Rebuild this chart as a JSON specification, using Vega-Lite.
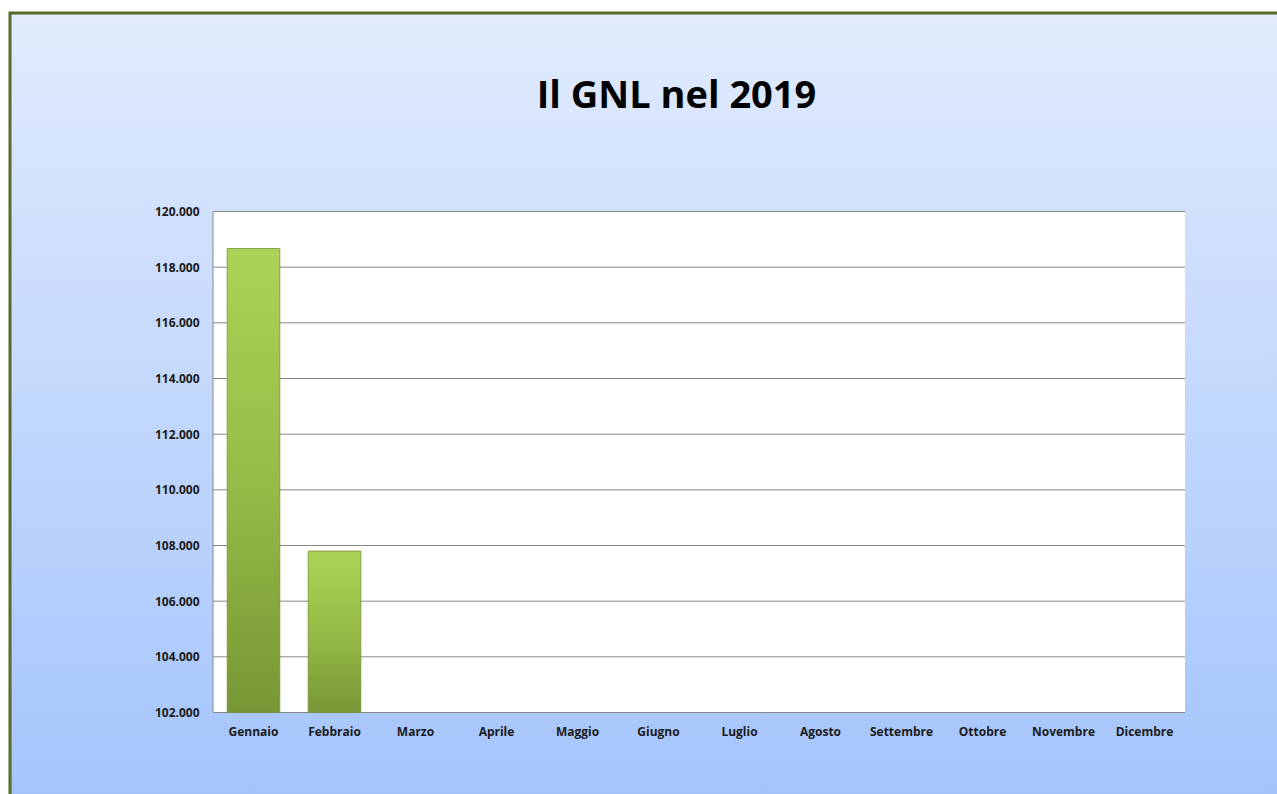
{
  "$schema": "https://vega.github.io/schema/vega-lite/v6.json",
  "width": 1273,
  "height": 787,
  "autosize": {"type": "none"},
  "padding": {"left": 10, "top": 13, "right": -6, "bottom": -6},
  "background": "white",
  "title": {
    "text": "Il GNL nel 2019",
    "font": "Open Sans",
    "fontSize": 38,
    "fontWeight": "bold",
    "color": "#000000",
    "anchor": "middle",
    "frame": "group",
    "baseline": "alphabetic",
    "offset": -133,
    "dx": 30
  },
  "config": {
    "view": {
      "fill": {"gradient": "linear", "x1": 0, "y1": 0, "x2": 0, "y2": 1,
        "stops": [{"offset": 0, "color": "#e1ebfd"}, {"offset": 1, "color": "#a4c4fc"}]},
      "stroke": "#57692b",
      "strokeWidth": 3
    },
    "axis": {"labelFont": "Open Sans", "labelFontWeight": "bold", "labelFontSize": 12, "labelColor": "#1a1a1a"}
  },
  "data": {
    "values": [
      {"mese": "Gennaio", "valore": 118670},
      {"mese": "Febbraio", "valore": 107800},
      {"mese": "Marzo", "valore": null},
      {"mese": "Aprile", "valore": null},
      {"mese": "Maggio", "valore": null},
      {"mese": "Giugno", "valore": null},
      {"mese": "Luglio", "valore": null},
      {"mese": "Agosto", "valore": null},
      {"mese": "Settembre", "valore": null},
      {"mese": "Ottobre", "valore": null},
      {"mese": "Novembre", "valore": null},
      {"mese": "Dicembre", "valore": null}
    ]
  },
  "resolve": {"scale": {"x": "independent"}, "axis": {"x": "independent"}},
  "layer": [
    {
      "data": {"values": [{}]},
      "mark": {"type": "rect", "fill": "#ffffff"},
      "encoding": {
        "x": {"datum": 0, "type": "quantitative", "scale": {"domain": [-2.50617, 13.20988], "nice": false, "zero": false}, "axis": null},
        "x2": {"datum": 12},
        "y": {"datum": 102000, "type": "quantitative", "scale": {"domain": [98856, 127132], "nice": false, "zero": false},
          "axis": {"title": null, "orient": "left", "offset": -203, "domain": false, "ticks": false, "grid": false, "labelPadding": 14,
            "values": [102000, 104000, 106000, 108000, 110000, 112000, 114000, 116000, 118000, 120000],
            "labelExpr": "replace(format(datum.value, ','), ',', '.')", "zindex": 1}},
        "y2": {"datum": 120000}
      }
    },
    {
      "data": {"values": [
        {"g": 102000}, {"g": 104000}, {"g": 106000}, {"g": 108000}, {"g": 110000},
        {"g": 112000}, {"g": 114000}, {"g": 116000}, {"g": 118000}, {"g": 120000}
      ]},
      "mark": {"type": "rule", "color": "#868686", "strokeWidth": 1},
      "encoding": {
        "x": {"datum": 0, "type": "quantitative", "scale": {"domain": [-2.50617, 13.20988], "nice": false, "zero": false}, "axis": null},
        "x2": {"datum": 12},
        "y": {"field": "g", "type": "quantitative", "scale": {"domain": [98856, 127132], "nice": false, "zero": false},
          "axis": {"title": null, "orient": "left", "offset": -203, "domain": false, "ticks": false, "grid": false, "labelPadding": 14,
            "values": [102000, 104000, 106000, 108000, 110000, 112000, 114000, 116000, 118000, 120000],
            "labelExpr": "replace(format(datum.value, ','), ',', '.')", "zindex": 1}}
      }
    },
    {
      "data": {"values": [{}]},
      "mark": {"type": "rule", "color": "#868686", "strokeWidth": 1},
      "encoding": {
        "x": {"datum": 0, "type": "quantitative", "scale": {"domain": [-2.50617, 13.20988], "nice": false, "zero": false}, "axis": null},
        "y": {"datum": 102000, "type": "quantitative", "scale": {"domain": [98856, 127132], "nice": false, "zero": false},
          "axis": {"title": null, "orient": "left", "offset": -203, "domain": false, "ticks": false, "grid": false, "labelPadding": 14,
            "values": [102000, 104000, 106000, 108000, 110000, 112000, 114000, 116000, 118000, 120000],
            "labelExpr": "replace(format(datum.value, ','), ',', '.')", "zindex": 1}},
        "y2": {"datum": 120000}
      }
    },
    {
      "mark": {
        "type": "bar",
        "color": {"gradient": "linear", "x1": 0, "y1": 0, "x2": 0, "y2": 1,
          "stops": [{"offset": 0, "color": "#aad356"}, {"offset": 0.5, "color": "#96bc47"}, {"offset": 1, "color": "#789636"}]},
        "stroke": "#76923a",
        "strokeWidth": 1,
        "strokeOpacity": 0.8
      },
      "encoding": {
        "x": {
          "field": "mese", "type": "nominal", "sort": null,
          "scale": {"domain": ["Gennaio", "Febbraio", "Marzo", "Aprile", "Maggio", "Giugno", "Luglio", "Agosto", "Settembre", "Ottobre", "Novembre", "Dicembre"],
            "range": [203, 1175], "paddingInner": 0.35, "paddingOuter": 0.175, "align": 0.5},
          "axis": {"title": null, "orient": "bottom", "offset": -87.5, "domain": false, "ticks": false, "grid": false, "labelAngle": 0, "labelPadding": 14}
        },
        "y": {
          "field": "valore", "type": "quantitative",
          "scale": {"domain": [98856, 127132], "nice": false, "zero": false},
          "axis": {"title": null, "orient": "left", "offset": -203, "domain": false, "ticks": false, "grid": false, "labelPadding": 14,
            "values": [102000, 104000, 106000, 108000, 110000, 112000, 114000, 116000, 118000, 120000],
            "labelExpr": "replace(format(datum.value, ','), ',', '.')", "zindex": 1}
        },
        "y2": {"datum": 102000}
      }
    }
  ]
}
